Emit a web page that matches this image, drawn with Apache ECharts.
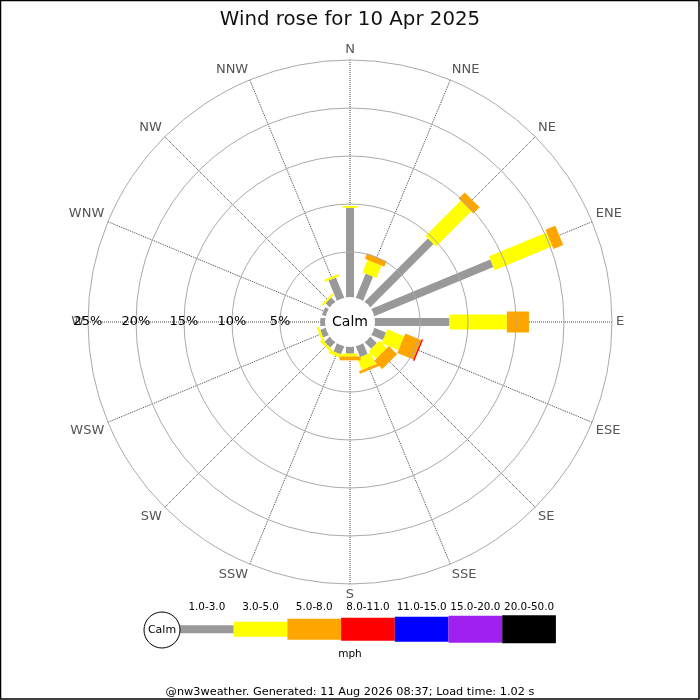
<!DOCTYPE html>
<html>
<head>
<meta charset="utf-8">
<script src="https://cdn.jsdelivr.net/npm/echarts@6/dist/echarts.min.js"></script>
<style>
html,body{margin:0;padding:0;background:#fff;}
#chart{width:700px;height:700px;}
</style>
</head>
<body>
<div id="chart"></div>
<script>
// ---- data ----
const directions = ['N','NNE','NE','ENE','E','ESE','SE','SSE','S','SSW','SW','WSW','W','WNW','NW','NNW'];
const speedClasses = ['1.0-3.0','3.0-5.0','5.0-8.0','8.0-11.0','11.0-15.0','15.0-20.0','20.0-50.0'];
// percent frequency per direction, per speed class (mph)
const pct_1_3   = [9.6, 3.0, 9.6, 13.7, 8.05, 1.6, 1.25, 1.5, 1.0, 1.2, 1.05, 0.9, 0.8, 0.7, 0.9, 2.55];
const pct_3_5   = [0.2, 1.4, 5.2, 6.5, 6.0, 1.9, 1.1, 1.3, 0.3, 0.35, 0.3, 0.25, 0, 0, 0.2, 0.25];
const pct_5_8   = [0, 0.6, 0.9, 1.1, 2.3, 1.8, 1.2, 0.3, 0.4, 0, 0, 0, 0, 0, 0, 0];
const pct_8_11  = [0, 0, 0, 0, 0, 0.15, 0, 0, 0, 0, 0, 0, 0, 0, 0, 0];
const pct_11_15 = [0, 0, 0, 0, 0, 0, 0, 0, 0, 0, 0, 0, 0, 0, 0, 0];
const pct_15_20 = [0, 0, 0, 0, 0, 0, 0, 0, 0, 0, 0, 0, 0, 0, 0, 0];
const pct_20_50 = [0, 0, 0, 0, 0, 0, 0, 0, 0, 0, 0, 0, 0, 0, 0, 0];
const radiusTicks = [5, 10, 15, 20, 25];
const titleText = 'Wind rose for 10 Apr 2025';
const unitText = 'mph';
const footerText = '@nw3weather. Generated: 11 Aug 2026 08:37; Load time: 1.02 s';

// ---- styles ----
const classColors = ['#999999','#ffff00','#ffa500','#ff0000','#0000ff','#a020f0','#000000'];
const classWidths = [8, 15, 21, 23, 25, 27, 28];
const FONT = 'DejaVu Sans';
const CX = 350, CY = 322, R_IN = 22, R_OUT = 262;

const classValues = [pct_1_3, pct_3_5, pct_5_8, pct_8_11, pct_11_15, pct_15_20, pct_20_50];

// angle value for direction index (polar starts at W, clockwise)
function dirAngle(i){ return (i * 22.5 + 90) % 360; }

// cumulative stacking
const cum = directions.map(() => 0);
const series = classValues.map((vals, k) => {
  const data = vals.map((v, i) => {
    const r0 = cum[i];
    const r1 = r0 + v;
    cum[i] = r1;
    return [r1, dirAngle(i), r0];
  });
  return {
    type: 'custom',
    name: speedClasses[k],
    coordinateSystem: 'polar',
    polarIndex: 0,
    data: data,
    z: 3,
    silent: true,
    renderItem: function (params, api) {
      const r1 = api.value(0), a = api.value(1), r0 = api.value(2);
      if (!(r1 > r0)) return null;
      const p0 = api.coord([r0, a]);
      const p1 = api.coord([r1, a]);
      const dx = p1[0] - p0[0], dy = p1[1] - p0[1];
      const len = Math.sqrt(dx*dx + dy*dy) || 1;
      const nx = -dy / len, ny = dx / len;
      const hw = classWidths[k] / 2;
      return {
        type: 'polygon',
        shape: { points: [
          [p0[0] + nx*hw, p0[1] + ny*hw],
          [p1[0] + nx*hw, p1[1] + ny*hw],
          [p1[0] - nx*hw, p1[1] - ny*hw],
          [p0[0] - nx*hw, p0[1] - ny*hw]
        ]},
        style: { fill: classColors[k], stroke: null }
      };
    }
  };
});

// legend graphics
const legendChildren = [];
const LX0 = 180, LSEG = 53.7, LY = 629.3;
legendChildren.push({
  type: 'circle', shape: { cx: 162, cy: 630, r: 18 },
  style: { fill: '#fff', stroke: '#000', lineWidth: 1 }, z: 10
});
legendChildren.push({
  type: 'text', x: 162, y: 630,
  style: { text: 'Calm', font: '11px "' + FONT + '"', fill: '#000', align: 'center', verticalAlign: 'middle' }, z: 11
});
speedClasses.forEach((lab, k) => {
  const x = LX0 + k * LSEG;
  legendChildren.push({
    type: 'rect', shape: { x: x, y: LY - classWidths[k]/2, width: LSEG, height: classWidths[k] },
    style: { fill: classColors[k] }, z: 9
  });
  legendChildren.push({
    type: 'text', x: x + LSEG/2, y: 607,
    style: { text: lab, font: '10.4px "' + FONT + '"', fill: '#000', align: 'center', verticalAlign: 'middle' }, z: 11
  });
});
legendChildren.push({
  type: 'text', x: 350, y: 654,
  style: { text: unitText, font: '10.5px "' + FONT + '"', fill: '#000', align: 'center', verticalAlign: 'middle' }, z: 11
});

const chart = echarts.init(document.getElementById('chart'), null, { renderer: 'canvas' });
chart.setOption({
  animation: false,
  backgroundColor: '#fff',
  textStyle: { fontFamily: FONT },
  title: {
    text: titleText, left: 'center', top: 5,
    textStyle: { fontFamily: FONT, fontSize: 19.8, fontWeight: 'normal', color: '#111' }
  },
  polar: { center: [CX, CY], radius: [R_IN, R_OUT] },
  angleAxis: {
    type: 'value', min: 0, max: 360, interval: 22.5,
    startAngle: 180, clockwise: true,
    axisLine: { show: false },
    axisTick: { show: false },
    axisLabel: {
      show: true, margin: 4, color: '#555555', fontSize: 13, fontFamily: FONT,
      formatter: function (v) {
        const idx = Math.round((((v - 90) % 360) + 360) % 360 / 22.5) % 16;
        return directions[idx];
      }
    },
    splitLine: { show: true, lineStyle: { color: '#444444', type: 'dotted', width: 1 } },
    z: 2
  },
  radiusAxis: {
    type: 'value', min: 0, max: 25, interval: 5,
    axisLine: { show: false },
    axisTick: { show: false },
    axisLabel: {
      show: true, margin: 0, color: '#000', fontSize: 13, fontFamily: FONT,
      align: 'center', verticalAlign: 'middle',
      formatter: function (v) { return radiusTicks.indexOf(v) >= 0 ? v + '%' : ''; }
    },
    splitLine: { show: true, lineStyle: { color: '#aaaaaa', width: 1, type: 'solid' } },
    z: 4
  },
  series: series,
  graphic: [
    {
      type: 'circle', shape: { cx: CX, cy: CY, r: 25 },
      style: { fill: '#fff', stroke: null }, z: 20
    },
    {
      type: 'text', x: CX, y: CY,
      style: { text: 'Calm', font: '14px "' + FONT + '"', fill: '#000', align: 'center', verticalAlign: 'middle' }, z: 21
    },
    { type: 'group', children: legendChildren, z: 10 },
    {
      type: 'text', x: 350, y: 692,
      style: { text: footerText, font: '11.3px "' + FONT + '"', fill: '#000', align: 'center', verticalAlign: 'middle' }, z: 11
    },
    {
      type: 'rect', shape: { x: 0.5, y: 0.5, width: 698.5, height: 698.5 },
      style: { fill: null, stroke: '#000', lineWidth: 1.5 }, z: 30
    }
  ]
});
</script>
</body>
</html>
